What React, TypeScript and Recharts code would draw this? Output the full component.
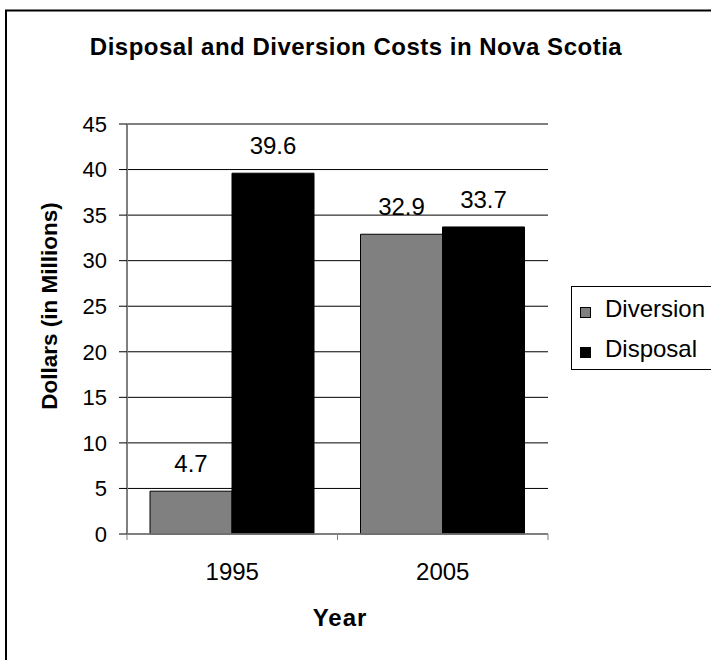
import { Bar, BarChart, CartesianGrid, LabelList, XAxis, YAxis } from 'recharts';

const years = ['1995', '2005'];
const diversion = [4.7, 32.9];
const disposal = [39.6, 33.7];
const seriesNames = ['Diversion', 'Disposal'];
const seriesColors = ['#808080', '#000000'];
const yTicks = [0, 5, 10, 15, 20, 25, 30, 35, 40, 45];

const data = years.map((year, i) => ({
  year,
  Diversion: diversion[i],
  Disposal: disposal[i],
}));

const WIDTH = 711;
const HEIGHT = 660;
const FONT = '"Liberation Sans", Arial, Helvetica, sans-serif';

const margin = { top: 124, right: 163, bottom: 66, left: 67 };
const Y_AXIS_W = 60;
const PLOT_W = WIDTH - margin.left - Y_AXIS_W - margin.right;
const BAND = PLOT_W / years.length;

// year label plus the little tick marks on the category boundaries
const YearTick = (props: any) => {
  const { x, y, payload } = props;
  return (
    <g>
      <line x1={x - BAND / 2} y1={y} x2={x - BAND / 2} y2={y + 6} stroke="#808080" />
      <line x1={x + BAND / 2} y1={y} x2={x + BAND / 2} y2={y + 6} stroke="#808080" />
      <text x={x} y={y + 46} textAnchor="middle" fontSize={24} fill="#000">
        {payload.value}
      </text>
    </g>
  );
};

export default function App() {
  return (
    <div
      style={{
        position: 'absolute',
        left: 0,
        top: 0,
        width: WIDTH,
        height: HEIGHT,
        overflow: 'hidden',
        background: '#fff',
        fontFamily: FONT,
      }}
    >
      <BarChart
        width={WIDTH}
        height={HEIGHT}
        data={data}
        margin={margin}
        barCategoryGap={23}
        barGap={0}
      >
        <CartesianGrid horizontal vertical={false} stroke="#000" strokeWidth={1} />
        <XAxis
          dataKey="year"
          height={60}
          tickSize={0}
          tickMargin={0}
          tickLine={false}
          axisLine={{ stroke: '#808080', strokeWidth: 1.5 }}
          tick={<YearTick />}
          interval={0}
        />
        <YAxis
          width={Y_AXIS_W}
          domain={[0, 45]}
          ticks={yTicks}
          interval={0}
          tickSize={8}
          tickMargin={12}
          tickLine={{ stroke: '#000' }}
          axisLine={{ stroke: '#808080', strokeWidth: 2 }}
          tick={{ fill: '#000', fontSize: 22 }}
        />
        {seriesNames.map((name, i) => (
          <Bar
            key={name}
            dataKey={name}
            fill={seriesColors[i]}
            stroke="#000"
            strokeWidth={1}
            isAnimationActive={false}
          >
            <LabelList
              dataKey={name}
              position="top"
              offset={19}
              fill="#000"
              fontSize={24}
            />
          </Bar>
        ))}
      </BarChart>

      {/* titles, legend and frame */}
      <svg
        width={WIDTH}
        height={HEIGHT}
        style={{ position: 'absolute', left: 0, top: 0, pointerEvents: 'none' }}
      >
        <rect x={6} y={10.5} width={800} height={800} fill="none" stroke="#000" strokeWidth={2} />
        <text
          x={356}
          y={55}
          textAnchor="middle"
          fontSize={24}
          fontWeight="bold"
          letterSpacing={0.5}
          fill="#000"
        >
          Disposal and Diversion Costs in Nova Scotia
        </text>
        <text
          x={57}
          y={306}
          transform="rotate(-90, 57, 306)"
          textAnchor="middle"
          fontSize={22.5}
          fontWeight="bold"
          fill="#000"
        >
          Dollars (in Millions)
        </text>
        <text
          x={340}
          y={626}
          textAnchor="middle"
          fontSize={24}
          fontWeight="bold"
          letterSpacing={1}
          fill="#000"
        >
          Year
        </text>
        <rect x={571.5} y={286.5} width={150} height={83} fill="#fff" stroke="#000" strokeWidth={1} />
        {seriesNames.map((name, i) => (
          <g key={name}>
            <rect
              x={580.5}
              y={307.5 + i * 40}
              width={10}
              height={10}
              fill={seriesColors[i]}
              stroke="#000"
            />
            <text x={605} y={317 + i * 40} fontSize={24} fill="#000">
              {name}
            </text>
          </g>
        ))}
      </svg>
    </div>
  );
}
